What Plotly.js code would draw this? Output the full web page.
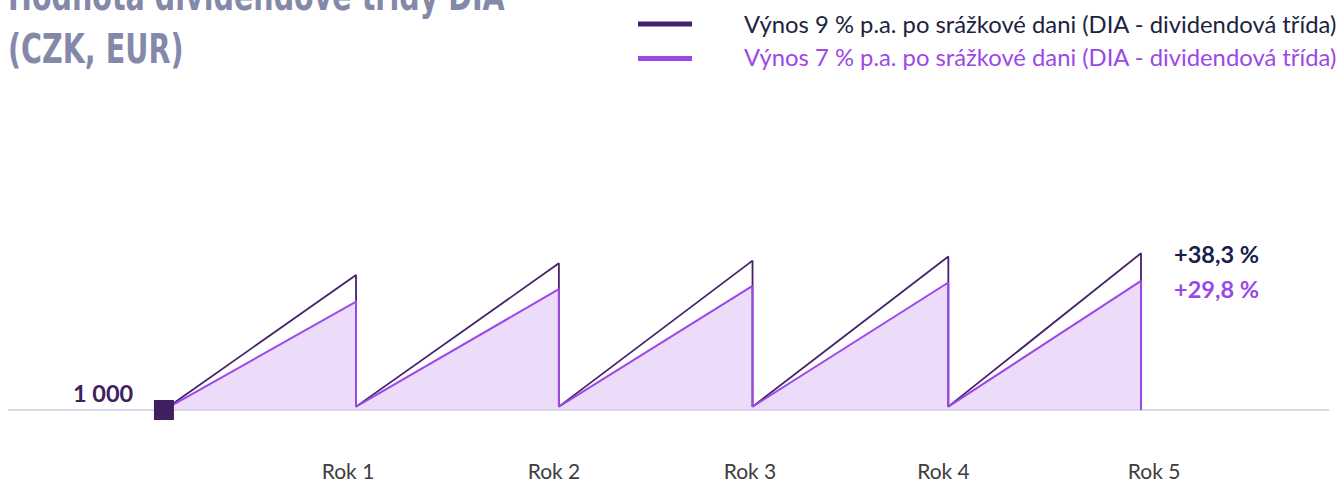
<!DOCTYPE html>
<html>
<head>
<meta charset="utf-8">
<script src="https://cdn.plot.ly/plotly-3.0.1.min.js"></script>
<style>
  html, body { margin: 0; padding: 0; background: #ffffff; }
  #chart { width: 1341px; height: 482px; }
</style>
</head>
<body>
<div id="chart"></div>
<script>
// ---- data ----
const startValue = 1000;                                  // investment at t = 0
const resetValue = 1001.9;                                // value right after each yearly payout
const periodEnds = [0.983, 2.021, 3.012, 4.014, 5.0];     // time of each payout (years)
const peaks9 = [1076.5, 1083.1, 1084.6, 1086.9, 1088.8];  // 9 % p.a. series, value before payout
const peaks7 = [1061.4, 1068.4, 1070.3, 1072.2, 1073.1];  // 7 % p.a. series, value before payout
const yearTickVals = [0.942, 1.996, 2.999, 3.989, 5.067];
const yearLabels = ['Rok 1', 'Rok 2', 'Rok 3', 'Rok 4', 'Rok 5'];
const seriesNames = [
  'Výnos 9 % p.a. po srážkové dani (DIA - dividendová třída)',
  'Výnos 7 % p.a. po srážkové dani (DIA - dividendová třída)'
];
const totalReturnLabels = ['+38,3 %', '+29,8 %'];
const startLabel = '1 000';
const titleText = 'Hodnota dividendové třídy DIA<br>(CZK, EUR)';
const baselineX = [-0.798, 5.962];

// ---- build saw-tooth paths from the data ----
function sawtooth(peaks) {
  const xs = [0], ys = [startValue];
  peaks.forEach((p, i) => {
    xs.push(periodEnds[i]); ys.push(p);
    xs.push(periodEnds[i]); ys.push(i === peaks.length - 1 ? startValue : resetValue);
  });
  return { x: xs, y: ys };
}
const s9 = sawtooth(peaks9);
const s7 = sawtooth(peaks7);

// ---- styles ----
const DARK = '#45216b';
const PURPLE = '#9b48e8';
const FILL = '#ecdcfa';
const BASE = '#dcd7e8';
const FONT = 'Lato, "Open Sans", sans-serif';

// plot-area geometry (pixels) used to place the custom legend
const L = 8, R = 12, T = 100, B = 27, W = 1341, H = 482;
const pw = W - L - R, ph = H - T - B;
const px = v => (v - L) / pw;
const py = v => (H - B - v) / ph;

const traces = [
  { x: baselineX, y: [startValue, startValue], mode: 'lines',
    line: { color: BASE, width: 2 }, hoverinfo: 'skip', showlegend: false },
  { x: s7.x, y: s7.y, mode: 'lines', fill: 'tonexty', fillcolor: FILL,
    line: { width: 0 }, hoverinfo: 'skip', showlegend: false },
  { x: s9.x, y: s9.y, mode: 'lines', name: seriesNames[0],
    line: { color: DARK, width: 1.8 }, showlegend: false },
  { x: s7.x, y: s7.y, mode: 'lines', name: seriesNames[1],
    line: { color: PURPLE, width: 2 }, showlegend: false },
  { x: [0], y: [startValue], mode: 'markers', cliponaxis: false,
    marker: { symbol: 'square', size: 20, color: '#42205f' },
    hoverinfo: 'skip', showlegend: false }
];

const layout = {
  width: W, height: H,
  margin: { l: L, r: R, t: T, b: B },
  paper_bgcolor: '#ffffff', plot_bgcolor: '#ffffff',
  font: { family: FONT },
  title: {
    text: titleText,
    xref: 'container', yref: 'container',
    x: 8 / W, xanchor: 'left',
    y: 1 - 10 / H, yanchor: 'middle',
    font: { family: '"DejaVu Sans", sans-serif',
            weight: 'bold', size: 41, color: '#8489a9' }
  },
  xaxis: {
    range: [-0.798, 5.962], showgrid: false, zeroline: false, showline: false,
    tickvals: yearTickVals, ticktext: yearLabels, ticks: '', ticklabelstandoff: 2,
    tickfont: { family: FONT, size: 21, color: '#3d3d3d' }, fixedrange: true
  },
  yaxis: { visible: false, range: [974.5, 1175.6], fixedrange: true },
  shapes: [
    { type: 'line', xref: 'paper', yref: 'paper', x0: px(638), x1: px(692), y0: py(24), y1: py(24),
      line: { color: DARK, width: 5 } },
    { type: 'line', xref: 'paper', yref: 'paper', x0: px(638), x1: px(692), y0: py(58.5), y1: py(58.5),
      line: { color: PURPLE, width: 5 } }
  ],
  annotations: [
    { xref: 'paper', yref: 'paper', x: px(742), y: py(23.5), xanchor: 'left', yanchor: 'middle',
      text: seriesNames[0], showarrow: false, font: { family: FONT, size: 23.8, color: '#1c2340' } },
    { xref: 'paper', yref: 'paper', x: px(742), y: py(57.5), xanchor: 'left', yanchor: 'middle',
      text: seriesNames[1], showarrow: false, font: { family: FONT, size: 23.8, color: PURPLE } },
    { x: 0, y: startValue, xref: 'x', yref: 'y', xanchor: 'right', yanchor: 'middle',
      xshift: -28, yshift: 17, text: startLabel, showarrow: false,
      font: { family: FONT, size: 23.5, weight: 'bold', color: '#40205f' } },
    { x: periodEnds[4], y: peaks9[4], xref: 'x', yref: 'y', xanchor: 'left', yanchor: 'middle',
      xshift: 31, yshift: -1, text: totalReturnLabels[0], showarrow: false,
      font: { family: FONT, size: 23.5, weight: 'bold', color: '#17204a' } },
    { x: periodEnds[4], y: peaks7[4], xref: 'x', yref: 'y', xanchor: 'left', yanchor: 'middle',
      xshift: 31, yshift: -8, text: totalReturnLabels[1], showarrow: false,
      font: { family: FONT, size: 23.5, weight: 'bold', color: PURPLE } }
  ],
  showlegend: false,
  hovermode: false
};

Plotly.newPlot('chart', traces, layout, { displayModeBar: false, staticPlot: true }).then(gd => {
  // condense the title horizontally (the reference uses a narrow display face)
  const t = gd.querySelector('.gtitle');
  if (t) {
    const box = t.getBBox();
    const s = (505 - 8) / box.width;
    t.setAttribute('transform', `translate(8,0) scale(${s},1) translate(-8,0)`);
  }
});
</script>
</body>
</html>
